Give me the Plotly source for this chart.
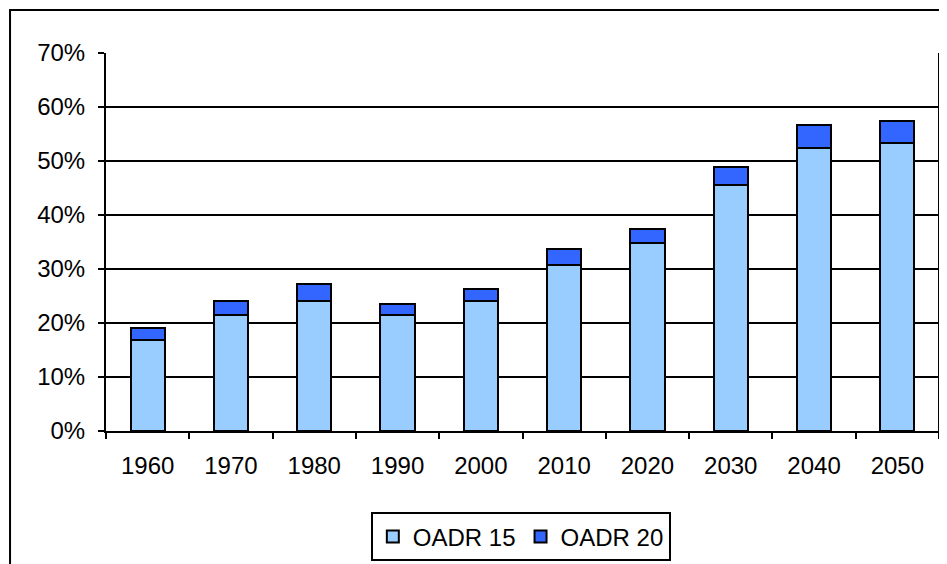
import plotly.graph_objects as go

# ===== Data =====
years = ['1960', '1970', '1980', '1990', '2000', '2010', '2020', '2030', '2040', '2050']
oadr15 = [0.169, 0.214, 0.240, 0.214, 0.240, 0.307, 0.348, 0.455, 0.525, 0.533]
oadr20_total = [0.191, 0.240, 0.273, 0.236, 0.263, 0.337, 0.374, 0.489, 0.567, 0.574]
oadr20_extra = [round(t - b, 3) for t, b in zip(oadr20_total, oadr15)]

FONT = 'Liberation Sans, Arial, sans-serif'

fig = go.Figure()
fig.add_trace(go.Bar(x=years, y=oadr15, name='OADR 15',
                     marker=dict(color='#99CCFF', line=dict(color='black', width=2))))
fig.add_trace(go.Bar(x=years, y=oadr20_extra, name='OADR 20',
                     marker=dict(color='#3366FF', line=dict(color='black', width=2))))

# page body has an 8px margin, so the margins are offset by that
fig.update_layout(
    barmode='stack',
    bargap=0.59,
    width=947, height=564,
    margin=dict(l=98, r=16, t=45, b=141, autoexpand=False),
    paper_bgcolor='white', plot_bgcolor='white',
    font=dict(family=FONT, size=24, color='black'),
    showlegend=True,
    legend=dict(orientation='h', x=0.498, y=-0.28, xanchor='center', yanchor='middle',
                bordercolor='black', borderwidth=2, font=dict(size=24),
                itemwidth=30, traceorder='normal'),
    shapes=[
        # outer chart frame, running off the right and bottom edges
        dict(type='rect', xref='paper', yref='paper', x0=-0.1152, x1=1.03, y0=-0.40, y1=1.1138,
             line=dict(color='black', width=2), fillcolor='rgba(0,0,0,0)', layer='below'),
        # right edge of the plot area
        dict(type='line', xref='paper', yref='paper', x0=1, x1=1, y0=0, y1=1,
             line=dict(color='black', width=2)),
    ],
)

fig.update_xaxes(type='category', showline=True, linecolor='black', linewidth=2,
                 ticks='outside', tickson='boundaries', ticklen=6, tickwidth=2, tickcolor='black',
                 ticklabelstandoff=12, showgrid=False, automargin=False)
fig.update_yaxes(range=[0, 0.7], tickformat='.0%', dtick=0.1, showline=True, linecolor='black',
                 linewidth=2, ticks='outside', ticklen=6, tickwidth=2, tickcolor='black',
                 showgrid=True, gridcolor='black', gridwidth=2, ticklabelstandoff=8,
                 zeroline=False, automargin=False)

fig.write_html('out.html')
